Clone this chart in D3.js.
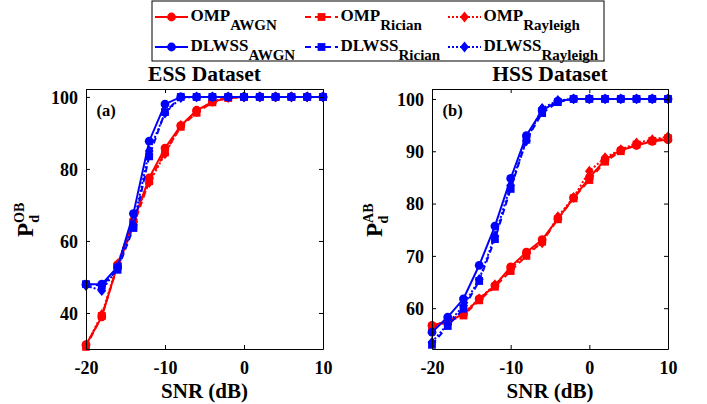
<!DOCTYPE html>
<html><head><meta charset="utf-8">
<script src="https://cdn.jsdelivr.net/npm/d3@7"></script>
<style>body{margin:0;background:#fff}svg{display:block}</style>
</head><body><div id="chart"></div>
<script>
const snr = [-20,-18,-16,-14,-12,-10,-8,-6,-4,-2,0,2,4,6,8,10];
const xTicks = [-20,-10,0,10];
// ESS dataset (a)
const essOmpAwgn     = [31.2,38.9,53.4,65.5,77.5,85.8,92.0,96.3,98.6,99.8,100,100,100,100,100,100];
const essOmpRician   = [30.6,39.2,53.0,64.2,76.6,84.6,91.7,95.6,98.5,99.7,100,100,100,100,100,100];
const essOmpRayleigh = [31.0,39.6,53.6,66.0,76.2,84.2,92.1,95.9,98.8,99.8,100,100,100,100,100,100];
const essDlAwgn      = [48.0,48.0,52.8,67.6,87.7,98.0,100,100,100,100,100,100,100,100,100,100];
const essDlRician    = [48.0,47.6,52.0,63.6,83.5,95.8,100,100,100,100,100,100,100,100,100,100];
const essDlRayleigh  = [47.6,46.2,52.5,64.5,85.0,95.5,99.8,100,100,100,100,100,100,100,100,100];
const essYTicks = [40,60,80,100];
// HSS dataset (b)
const hssOmpAwgn     = [56.7,57.5,58.8,61.8,64.3,67.9,70.7,73.1,77.1,81.1,84.9,88.4,90.2,91.1,91.9,92.2];
const hssOmpRician   = [56.3,57.4,58.6,61.5,64.1,67.1,70.0,72.7,77.0,81.0,84.5,88.0,90.0,91.3,92.0,92.5];
const hssOmpRayleigh = [56.6,57.6,59.0,61.8,64.5,67.5,70.5,72.5,77.5,81.2,86.2,88.8,90.3,91.6,92.2,92.8];
const hssDlAwgn      = [55.4,58.3,61.8,68.2,75.7,84.8,93.0,97.8,99.6,100,100,100,100,100,100,100];
const hssDlRician    = [53.0,56.6,59.9,65.2,73.2,82.8,92.2,97.3,99.4,100,100,100,100,100,100,100];
const hssDlRayleigh  = [53.5,57.0,60.5,65.5,73.8,83.5,92.0,98.2,99.7,100,100,100,100,100,100,100];
const hssYTicks = [60,70,80,90,100];

const seriesNames = ["OMP","OMP","OMP","DLWSS","DLWSS","DLWSS"];
const seriesSubs = ["AWGN","Rician","Rayleigh","AWGN","Rician","Rayleigh"];

const RED="#ff0000", BLUE="#0000ff";
const FONT = "Liberation Serif";
const styles = [
  {color:RED, dash:null, marker:"circle"},
  {color:RED, dash:"6,4", marker:"square"},
  {color:RED, dash:"2,2", marker:"diamond"},
  {color:BLUE, dash:null, marker:"circle"},
  {color:BLUE, dash:"6,4", marker:"square"},
  {color:BLUE, dash:"2,2", marker:"diamond"}
];

const W=707,H=404;
const svg = d3.select("#chart").append("svg").attr("width",W).attr("height",H)
  .attr("font-family",FONT).attr("font-weight","bold");

function drawMarker(g, type, x, y, color){
  if(type==="circle") g.append("circle").attr("cx",x).attr("cy",y).attr("r",4.4).attr("fill",color);
  else if(type==="square") g.append("rect").attr("x",x-3.9).attr("y",y-3.9).attr("width",7.8).attr("height",7.8).attr("fill",color);
  else g.append("path").attr("d",`M${x},${y-5.4}L${x+4.4},${y}L${x},${y+5.4}L${x-4.4},${y}Z`).attr("fill",color);
}

function panel(opts){
  const {left,right,top,bottom,yDomain,yTicks,data,title,tag,ySup,labOff} = opts;
  const x = d3.scaleLinear().domain([-20,10]).range([left,right]);
  const y = d3.scaleLinear().domain(yDomain).range([bottom,top]);
  const g = svg.append("g");
  data.forEach((vals,i)=>{
    const st = styles[i];
    const line = d3.line().x((d,j)=>x(snr[j])).y(d=>y(d));
    g.append("path").attr("d",line(vals)).attr("fill","none").attr("stroke",st.color)
      .attr("stroke-width",2).attr("stroke-dasharray",st.dash);
    const mg = g.append("g");
    vals.forEach((v,j)=>drawMarker(mg, st.marker, x(snr[j]), y(v), st.color));
  });
  const fmt = d => String(d);
  const axB = g.append("g").attr("transform",`translate(0,${bottom})`)
    .call(d3.axisBottom(x).tickValues(xTicks).tickFormat(fmt).tickSizeInner(-4).tickSizeOuter(0).tickPadding(12));
  const axT = g.append("g").attr("transform",`translate(0,${top})`)
    .call(d3.axisTop(x).tickValues(xTicks).tickSizeInner(-4).tickSizeOuter(0).tickFormat(""));
  const axL = g.append("g").attr("transform",`translate(${left},0)`)
    .call(d3.axisLeft(y).tickValues(yTicks).tickFormat(fmt).tickSizeInner(-4).tickSizeOuter(0).tickPadding(8));
  const axR = g.append("g").attr("transform",`translate(${right},0)`)
    .call(d3.axisRight(y).tickValues(yTicks).tickSizeInner(-4).tickSizeOuter(0).tickFormat(""));
  [axB,axT,axL,axR].forEach(a=>{
    a.attr("font-family",FONT).attr("font-size",18);
    a.selectAll("path.domain").attr("stroke","#000").attr("stroke-width",1);
    a.selectAll(".tick line").attr("stroke","#000");
    a.selectAll("text").attr("font-family",FONT).attr("font-weight","bold").attr("font-size",18).attr("fill","#000");
  });
  axL.selectAll(".tick text").attr("dy","0.35em");
  g.append("text").attr("x",(left+right)/2).attr("y",80.5).attr("text-anchor","middle").attr("font-size",21.5).text(title);
  g.append("text").attr("x",(left+right)/2).attr("y",398).attr("text-anchor","middle").attr("font-size",21).text("SNR (dB)");
  g.append("text").attr("x",left+10.5).attr("y",116).attr("font-size",16.5).text(tag);
  const yl = g.append("g").attr("transform",`translate(${left-labOff},${(top+bottom)/2}) rotate(-90)`);
  const t = yl.append("text").attr("x",-18).attr("y",0);
  t.append("tspan").attr("font-size",23).text("P");
  t.append("tspan").attr("font-size",14).attr("dy",-9).text(ySup);
  t.append("tspan").attr("font-size",14).attr("dx",-ySup.length*10).attr("dy",15).text("d");
}

panel({left:86,right:323,top:89,bottom:349,yDomain:[30,102.2],yTicks:essYTicks,
  data:[essOmpAwgn,essOmpRician,essOmpRayleigh,essDlAwgn,essDlRician,essDlRayleigh],
  title:"ESS Dataset",tag:"(a)",ySup:"OB",labOff:53});
panel({left:432,right:668,top:89,bottom:349,yDomain:[52.2,101.9],yTicks:hssYTicks,
  data:[hssOmpAwgn,hssOmpRician,hssOmpRayleigh,hssDlAwgn,hssDlRician,hssDlRayleigh],
  title:"HSS Dataset",tag:"(b)",ySup:"AB",labOff:50});

const lg = svg.append("g");
lg.append("rect").attr("x",152).attr("y",1).attr("width",452).attr("height",60).attr("fill","#fff").attr("stroke","#000").attr("stroke-width",1);
const colX = [155,305,448];
const rowY = [17,47];
[0,3,1,4,2,5].forEach((si,k)=>{
  const col = Math.floor(k/2), row = k%2;
  const st = styles[si];
  const x0 = colX[col], yy = rowY[row];
  lg.append("line").attr("x1",x0).attr("x2",x0+33).attr("y1",yy).attr("y2",yy)
    .attr("stroke",st.color).attr("stroke-width",2).attr("stroke-dasharray",st.dash);
  drawMarker(lg, st.marker, x0+16.5, yy, st.color);
  const t = lg.append("text").attr("x",x0+35.5).attr("y",yy+4);
  t.append("tspan").attr("font-size",17).text(seriesNames[si]);
  t.append("tspan").attr("font-size",15).attr("dy",8.5).text(seriesSubs[si]);
});
</script></body></html>
